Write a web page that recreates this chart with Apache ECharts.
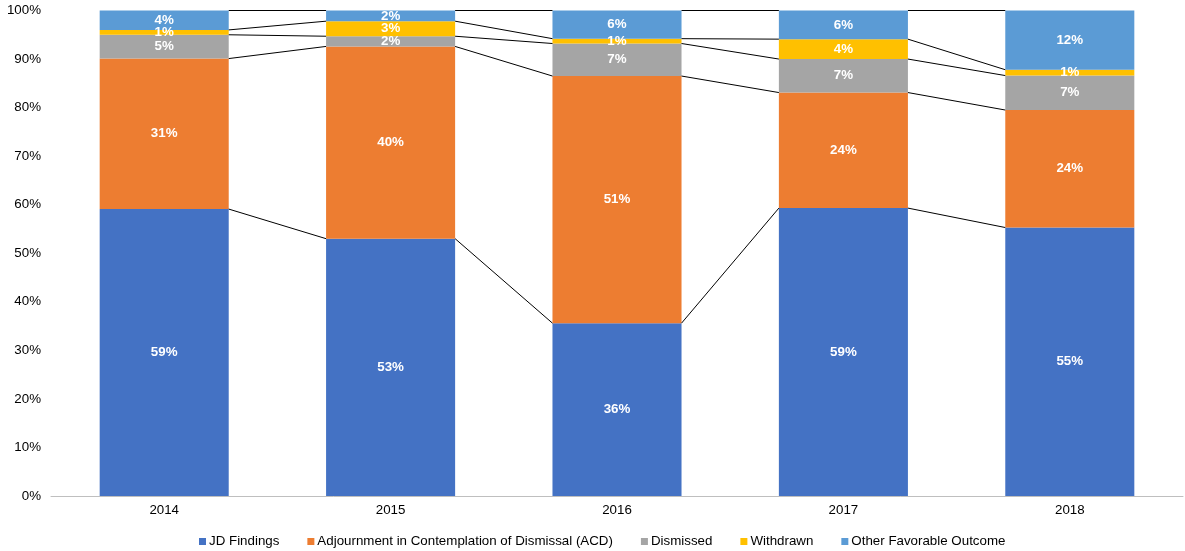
<!DOCTYPE html>
<html>
<head>
<meta charset="utf-8">
<script src="https://cdn.jsdelivr.net/npm/echarts@6/dist/echarts.min.js"></script>
<style>
html,body{margin:0;padding:0;background:#fff;}
#chart{width:1185px;height:551px;}
</style>
</head>
<body>
<div id="chart"></div>
<script>
const categories = ['2014', '2015', '2016', '2017', '2018'];
const seriesNames = ['JD Findings', 'Adjournment in Contemplation of Dismissal (ACD)', 'Dismissed', 'Withdrawn', 'Other Favorable Outcome'];
const jdFindings = [59.1, 53.0, 35.6, 59.3, 55.3];
const acd = [31.0, 39.6, 50.9, 23.8, 24.2];
const dismissed = [4.9, 2.1, 6.7, 6.9, 7.1];
const withdrawn = [1.0, 3.1, 1.0, 4.1, 1.2];
const otherFavorable = [4.0, 2.2, 5.8, 5.9, 12.2];
const yTicks = [0, 10, 20, 30, 40, 50, 60, 70, 80, 90, 100];

const colors = ['#4472C4', '#ED7D31', '#A5A5A5', '#FFC000', '#5B9BD5'];
const allSeries = [jdFindings, acd, dismissed, withdrawn, otherFavorable];
const gapRatio = 0.43;

// cumulative tops for series lines
const cum = [];
allSeries.forEach((arr, k) => {
  cum.push(arr.map((v, i) => (k === 0 ? 0 : cum[k - 1][i]) + v));
});
const lineData = [];
cum.forEach(level => {
  for (let i = 0; i < categories.length - 1; i++) {
    lineData.push([i, level[i], level[i + 1]]);
  }
});

const font = '"Liberation Sans", Arial, sans-serif';
const fs = 13.33;

const barSeries = seriesNames.map((name, k) => ({
  name: name,
  type: 'bar',
  stack: 'total',
  barCategoryGap: (gapRatio * 100) + '%',
  data: allSeries[k],
  itemStyle: { color: colors[k] },
  label: {
    show: true,
    position: 'inside',
    color: '#fff',
    fontWeight: 'bold',
    fontSize: fs,
    fontFamily: font,
    formatter: p => Math.round(p.value) + '%'
  },
  emphasis: { disabled: true }
}));

const lineSeries = {
  type: 'custom',
  silent: true,
  z: 3,
  data: lineData,
  encode: { x: 0, y: [1, 2] },
  renderItem: function (params, api) {
    const i = api.value(0);
    const p1 = api.coord([i, api.value(1)]);
    const p2 = api.coord([i + 1, api.value(2)]);
    const band = api.size([1, 0])[0];
    const bw = band * (1 - gapRatio);
    return {
      type: 'line',
      shape: { x1: p1[0] + bw / 2, y1: p1[1], x2: p2[0] - bw / 2, y2: p2[1] },
      style: { stroke: '#000', lineWidth: 1 }
    };
  }
};

const chart = echarts.init(document.getElementById('chart'));
chart.setOption({
  animation: false,
  textStyle: { fontFamily: font },
  grid: { left: 51, right: 2, top: 10.5, bottom: 55 },
  legend: {
    data: seriesNames,
    top: 530,
    left: 194,
    itemWidth: 7,
    itemHeight: 7,
    itemGap: 28,
    icon: 'rect',
    textStyle: { fontSize: fs, color: '#000', fontFamily: font, padding: [0, 0, 0, -2] }
  },
  xAxis: {
    type: 'category',
    data: categories,
    axisTick: { show: false },
    axisLine: { lineStyle: { color: '#BFBFBF', width: 1 } },
    axisLabel: { color: '#000', fontSize: fs, margin: 8 }
  },
  yAxis: {
    type: 'value',
    min: yTicks[0],
    max: yTicks[yTicks.length - 1],
    interval: 10,
    splitLine: { show: false },
    axisLine: { show: false },
    axisTick: { show: false },
    axisLabel: { color: '#000', fontSize: fs, margin: 10, formatter: '{value}%' }
  },
  series: barSeries.concat([lineSeries])
});
</script>
</body>
</html>
